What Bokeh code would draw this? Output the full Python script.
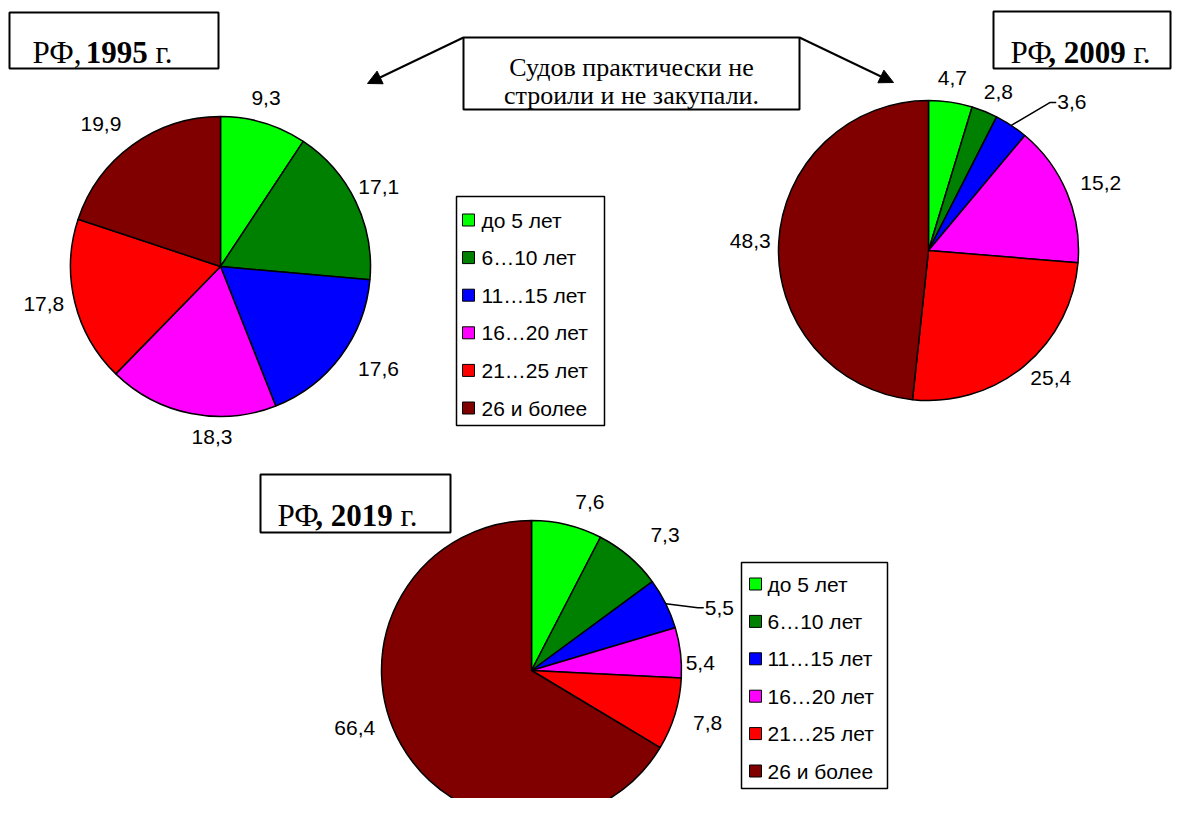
import math
from bokeh.plotting import figure
from bokeh.models import Range1d, Arrow, NormalHead
from bokeh.embed import file_html
from bokeh.resources import INLINE
from bokeh.core.properties import value

# ---------------- data ----------------
categories = ["до 5 лет", "6…10 лет", "11…15 лет", "16…20 лет", "21…25 лет", "26 и более"]
values_1995 = [9.3, 17.1, 17.6, 18.3, 17.8, 19.9]
values_2009 = [4.7, 2.8, 3.6, 15.2, 25.4, 48.3]
values_2019 = [7.6, 7.3, 5.5, 5.4, 7.8, 66.4]
years = ["1995", "2009", "2019"]
note_lines = ["Судов практически не", "строили и не закупали."]

# ---------------- style / layout ----------------
colors = ["#00FF00", "#008000", "#0000FF", "#FF00FF", "#FF0000", "#800000"]
SANS = value("Liberation Sans")
SERIF = value("Liberation Serif")
LBL_SIZE = value("21px")
TITLE_SIZE = value("31px")
NOTE_SIZE = value("26px")

W, H = 1172, 798

def Y(y):
    return -y

p = figure(width=W, height=H, output_backend="svg", toolbar_location=None,
           x_range=Range1d(0, W), y_range=Range1d(-H, 0),
           x_axis_type=None, y_axis_type=None, min_border=0)
p.grid.visible = False
p.outline_line_color = None
p.background_fill_color = "white"
p.border_fill_color = "white"

pies = [
    dict(vals=values_1995, cx=220, cy=266, r=150,
         nudge=[(-4, -4), (-4, -1), (14, -5), (25, 4), (-2, -5), (-16, 1)], leaders={}),
    dict(vals=values_2009, cx=928, cy=250, r=150,
         nudge=[(-1, -5), (5, 2), (0, 0), (6, 2), (9, -9), (0, 0)], leaders={2: (39, -23)}),
    dict(vals=values_2019, cx=531, cy=670, r=150,
         nudge=[(18, -2), (18, 0), (0, 0), (-9, 14), (4, 0), (-20, -31)], leaders={2: (32, 4)}),
]

HW, HH, GAP = 22, 10, 6

for pie in pies:
    vals = pie["vals"]
    tot = sum(vals)
    cum = 0.0
    starts, ends = [], []
    for v in vals:
        a0 = cum / tot
        cum += v
        a1 = cum / tot
        starts.append(math.pi / 2 - 2 * math.pi * a1)
        ends.append(math.pi / 2 - 2 * math.pi * a0)
    p.wedge(x=[pie["cx"]] * len(vals), y=[Y(pie["cy"])] * len(vals), radius=pie["r"],
            start_angle=starts, end_angle=ends, fill_color=colors,
            line_color="black", line_width=1.5)
    # labels
    cum = 0.0
    lx, ly, lt = [], [], []
    llx, lly, llt = [], [], []
    for i, v in enumerate(vals):
        mid = (cum + v / 2) / tot
        cum += v
        th = 2 * math.pi * mid
        ux, uy = math.sin(th), -math.cos(th)  # image coords (y down)
        txt = ("%.1f" % v).replace(".", ",")
        if i in pie["leaders"]:
            px = pie["cx"] + pie["r"] * ux
            py = pie["cy"] + pie["r"] * uy
            ex, ey = pie["leaders"][i]
            ex, ey = px + ex, py + ey
            p.line(x=[px, ex, ex + 6], y=[Y(py), Y(ey), Y(ey)], line_color="black", line_width=1.5)
            llx.append(ex + 7)
            lly.append(Y(ey))
            llt.append(txt)
        else:
            d = pie["r"] + GAP + HW * abs(ux) + HH * abs(uy)
            dx, dy = pie["nudge"][i]
            lx.append(pie["cx"] + d * ux + dx)
            ly.append(Y(pie["cy"] + d * uy + dy))
            lt.append(txt)
    p.text(x=lx, y=ly, text=lt, text_font=SANS, text_font_size=LBL_SIZE,
           text_align="center", text_baseline="middle", text_color="black")
    if llt:
        p.text(x=llx, y=lly, text=llt, text_font=SANS, text_font_size=LBL_SIZE,
               text_align="left", text_baseline="middle", text_color="black")

# legends
def legend(left, top, right, bottom, sq_x, txt_x, first_y, step):
    p.quad(left=[left], right=[right], top=[Y(top)], bottom=[Y(bottom)],
           fill_color="white", line_color="black", line_width=1.5)
    ys = [Y(first_y + i * step) for i in range(len(categories))]
    p.rect(x=[sq_x] * len(categories), y=ys, width=12, height=12,
           fill_color=colors, line_color="black", line_width=1)
    p.text(x=[txt_x] * len(categories), y=ys, text=categories, text_font=SANS,
           text_font_size=LBL_SIZE, text_align="left", text_baseline="middle",
           text_color="black")

legend(456, 196, 604, 425, 468, 481, 219.5, 37.6)
legend(741, 562, 887, 788, 755, 767, 583.5, 37.4)

# title boxes: normal "РФ", bold ", year", normal "г."
def title_box(left, top, right, bottom, x0, base, year, bold_comma):
    p.quad(left=[left], right=[right], top=[Y(top)], bottom=[Y(bottom)],
           fill_color="white", line_color="black", line_width=2)
    fs = 31
    if bold_comma:
        pieces = [("РФ", False, x0), (", " + year, True, x0 + 1.22 * fs),
                  ("г.", False, x0 + 1.22 * fs + 2.5 * fs + 0.25 * fs)]
    else:
        pieces = [("РФ,", False, x0), (year, True, x0 + 1.72 * fs),
                  ("г.", False, x0 + 1.72 * fs + 2.0 * fs + 0.25 * fs)]
    for txt, bold, x in pieces:
        p.text(x=[x], y=[Y(base)], text=[txt], text_font=SERIF, text_font_size=TITLE_SIZE,
               text_font_style="bold" if bold else "normal", text_align="left",
               text_baseline="alphabetic", text_color="black")

title_box(9, 12, 218, 68, 32, 52, years[0], False)
title_box(993, 11, 1170, 68, 1010, 52, years[1], True)
title_box(260, 474, 450, 532, 277, 515, years[2], True)

# note box with arrows
p.add_layout(Arrow(x_start=463, y_start=Y(37), x_end=367, y_end=Y(83), line_width=2,
                   line_color="black",
                   end=NormalHead(size=14, fill_color="black", line_color="black")))
p.add_layout(Arrow(x_start=799, y_start=Y(37), x_end=893, y_end=Y(82), line_width=2,
                   line_color="black",
                   end=NormalHead(size=14, fill_color="black", line_color="black")))
p.quad(left=[463], right=[799], top=[Y(37)], bottom=[Y(109)],
       fill_color="white", line_color="black", line_width=2)
p.text(x=[631, 631], y=[Y(67), Y(95)], text=note_lines, text_font=SERIF,
       text_font_size=NOTE_SIZE, text_align="center", text_baseline="alphabetic",
       text_color="black")

open("out.html", "w").write(file_html(p, INLINE))
